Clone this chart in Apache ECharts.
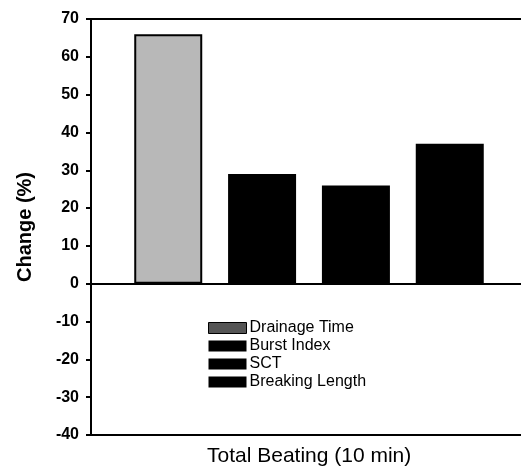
<!DOCTYPE html>
<html>
<head>
<meta charset="utf-8">
<script src="https://cdn.jsdelivr.net/npm/echarts@6/dist/echarts.min.js"></script>
<style>html,body{margin:0;padding:0;background:#fff}#c{width:521px;height:471px}</style>
</head>
<body>
<div id="c"></div>
<script>
var categories = ['Total Beating (10 min)'];
var seriesNames = ['Drainage Time', 'Burst Index', 'SCT', 'Breaking Length'];
var drainageTime = [66];
var burstIndex = [29];
var sct = [26];
var breakingLength = [37];
var seriesValues = [drainageTime, burstIndex, sct, breakingLength];

var chart = echarts.init(document.getElementById('c'));
var font = 'Liberation Sans, Arial, Helvetica, sans-serif';
var series = seriesNames.map(function (n, i) {
  return {
    name: n,
    type: 'bar',
    data: seriesValues[i],
    barWidth: 68,
    barGap: '38%',
    itemStyle: i === 0
      ? { color: '#b8b8b8', borderColor: '#000', borderWidth: 2 }
      : { color: '#000' },
    animation: false
  };
});
chart.setOption({
  animation: false,
  backgroundColor: '#fff',
  title: {
    text: categories[0],
    left: 207,
    top: 446,
    padding: 0,
    textStyle: { fontFamily: font, fontSize: 21, fontWeight: 'normal', color: '#000' }
  },
  grid: { left: 91, top: 19, bottom: 36, right: -6, outerBoundsMode: 'none', containLabel: false, show: true, borderColor: '#000', borderWidth: 2, backgroundColor: 'transparent' },
  legend: {
    orient: 'vertical',
    left: 208,
    top: 320,
    padding: 0,
    icon: 'rect',
    itemWidth: 38,
    itemHeight: 11,
    itemGap: 2,
    textStyle: { fontFamily: font, fontSize: 16, color: '#000', lineHeight: 16, padding: [0, 0, 0, -2] },
    data: seriesNames.map(function (n, i) {
      return i === 0 ? { name: n, itemStyle: { color: '#555', borderColor: '#000', borderWidth: 1 } } : { name: n };
    })
  },
  xAxis: {
    type: 'category',
    data: categories,
    axisLine: { onZero: true, lineStyle: { color: '#000', width: 2 } },
    axisTick: { show: false },
    axisLabel: { show: false }
  },
  yAxis: {
    type: 'value',
    min: -40,
    max: 70,
    interval: 10,
    splitLine: { show: false },
    axisLine: { show: true, lineStyle: { color: '#000', width: 2 } },
    axisTick: { show: true, length: 5, lineStyle: { color: '#000', width: 2 } },
    axisLabel: { fontFamily: font, fontWeight: 'bold', fontSize: 16, color: '#000', margin: 12 },
    name: 'Change (%)',
    nameLocation: 'middle',
    nameGap: 56,
    nameTextStyle: { fontFamily: font, fontWeight: 'bold', fontSize: 20, color: '#000' }
  },
  series: series
});
</script>
</body>
</html>
